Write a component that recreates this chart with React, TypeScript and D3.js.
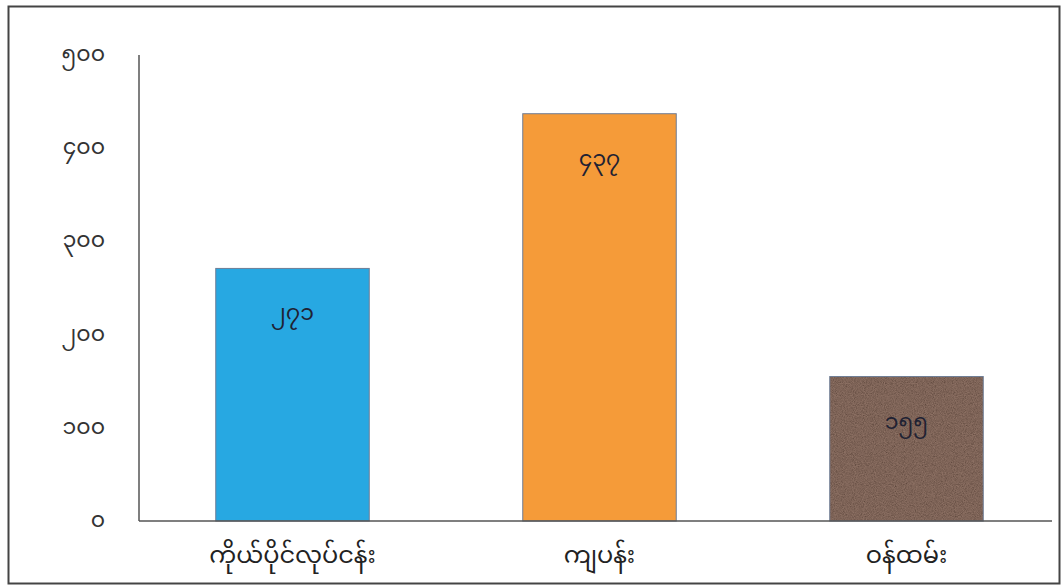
import * as d3 from "d3";
import { useEffect, useRef } from "react";

const categories = ["ကိုယ်ပိုင်လုပ်ငန်း", "ကျပန်း", "ဝန်ထမ်း"];
const values = [271, 437, 155];
const valueLabels = ["၂၇၁", "၄၃၇", "၁၅၅"];
const tickValues = [0, 100, 200, 300, 400, 500];
const tickLabels = ["၀", "၁၀၀", "၂၀၀", "၃၀၀", "၄၀၀", "၅၀၀"];
const barColors = ["#27a8e2", "#f59b39", "url(#brownTex)"];

const FONT = "'Noto Sans Myanmar', 'Padauk', 'Myanmar Text', 'Noto Sans', sans-serif";

export default function App() {
  const svgRef = useRef<SVGSVGElement>(null);
  const width = 1061;
  const height = 586;

  useEffect(() => {
    const svg = d3.select(svgRef.current);
    svg.selectAll("*").remove();

    const x = d3.scaleBand<string>().domain(categories).range([139, 1060]).paddingInner(0.5).paddingOuter(0.25);
    const y = d3.scaleLinear().domain([0, 500]).range([521, 55]);

    // brown grainy texture for the third bar
    const defs = svg.append("defs");
    const filt = defs.append("filter").attr("id", "grain").attr("x", 0).attr("y", 0).attr("width", 1).attr("height", 1);
    filt.append("feTurbulence").attr("type", "fractalNoise").attr("baseFrequency", 1.1).attr("numOctaves", 2).attr("result", "noise");
    filt.append("feColorMatrix").attr("type", "matrix")
      .attr("values", "0.95 0 0 0 0  0.7 0 0 0 0  0.6 0 0 0 0  0 0 0 0 0.35");
    const pat = defs.append("pattern").attr("id", "brownTex").attr("patternUnits", "userSpaceOnUse").attr("width", 300).attr("height", 300);
    pat.append("rect").attr("width", 300).attr("height", 300).attr("fill", "#5f4336");
    pat.append("rect").attr("width", 300).attr("height", 300).attr("filter", "url(#grain)");

    // outer frame
    svg.append("rect").attr("x", 8.5).attr("y", 6.5).attr("width", 1051).attr("height", 577)
      .attr("fill", "white").attr("stroke", "#444").attr("stroke-width", 2);

    // bars
    svg.selectAll(".bar").data(values).join("rect")
      .attr("class", "bar")
      .attr("x", (d, i) => x(categories[i])!)
      .attr("y", d => y(d))
      .attr("width", x.bandwidth())
      .attr("height", d => y(0) - y(d))
      .attr("fill", (d, i) => barColors[i])
      .attr("stroke", "#6d7d96")
      .attr("stroke-width", 1);

    svg.selectAll(".val").data(values).join("text")
      .attr("class", "val")
      .attr("x", (d, i) => x(categories[i])! + x.bandwidth() / 2)
      .attr("y", d => y(d) + 52)
      .attr("text-anchor", "middle")
      .attr("font-family", FONT)
      .attr("font-size", 22)
      .attr("fill", "#1f2233")
      .text((d, i) => valueLabels[i]);

    // axes
    svg.append("line").attr("x1", 139).attr("x2", 139).attr("y1", 55).attr("y2", y(0))
      .attr("stroke", "#555").attr("stroke-width", 1.5);
    svg.append("line").attr("x1", 139).attr("x2", 1052).attr("y1", y(0)).attr("y2", y(0))
      .attr("stroke", "#555").attr("stroke-width", 1.5);

    svg.selectAll(".tick").data(tickValues).join("text")
      .attr("class", "tick")
      .attr("x", 105)
      .attr("y", d => y(d) + 6)
      .attr("text-anchor", "end")
      .attr("font-family", FONT)
      .attr("font-size", 22)
      .attr("fill", "#333")
      .text((d, i) => tickLabels[i]);

    svg.selectAll(".cat").data(categories).join("text")
      .attr("class", "cat")
      .attr("x", d => x(d)! + x.bandwidth() / 2)
      .attr("y", 563)
      .attr("text-anchor", "middle")
      .attr("font-family", FONT)
      .attr("font-size", 24)
      .attr("fill", "#222")
      .text(d => d);
  }, []);

  return (
    <svg ref={svgRef} width={width} height={height}
      style={{ position: "absolute", left: 0, top: 0, display: "block" }} />
  );
}
